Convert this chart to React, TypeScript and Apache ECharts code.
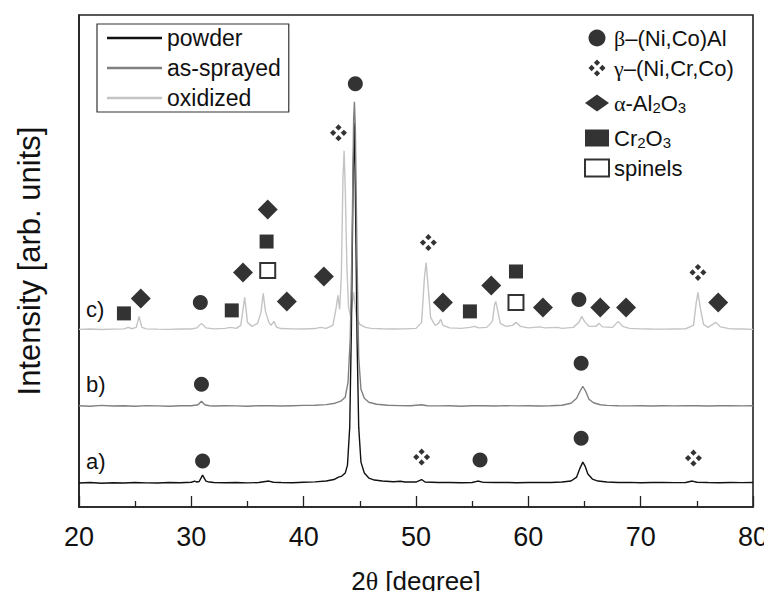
import React, { useEffect, useRef } from "react";
import * as echarts from "echarts";

// Tick labels of the 2θ axis
const xTicks = [20, 30, 40, 50, 60, 70, 80];

// Pattern a) powder  [2θ, intensity (arb.)]
const powder: number[][] = [
  [20, 24], [21, 24.5], [22, 23.8], [23, 24.3], [24, 24], [25, 24.6], [26, 24.2], [27, 24], [28, 24.5], [29, 24.3],
  [30, 24.8], [30.3, 26], [30.5, 25], [30.7, 25.5], [31.0, 32], [31.3, 26], [31.6, 25], [32, 24.5], [33, 24.3],
  [34, 24.6], [35, 24.2], [36, 24.5], [36.9, 26], [37.3, 24.8], [38, 24.5], [39, 24.3], [40, 24.8], [41, 25.2],
  [42, 26], [42.7, 27.5], [43.1, 30], [43.4, 31], [43.7, 34], [43.9, 42], [44.1, 80], [44.25, 180], [44.4, 330],
  [44.5, 385], [44.6, 320], [44.75, 170], [44.9, 80], [45.1, 45], [45.4, 34], [45.8, 29], [46.3, 27], [47, 26],
  [48, 25.3], [48.6, 25.8], [49, 25], [50, 25], [50.5, 27.5], [50.8, 25], [52, 24.6], [53, 24.5], [54, 24.3],
  [55, 24.5], [55.5, 26], [56, 24.7], [57, 24.5], [58, 24.6], [59, 24.3], [60, 24.5], [61, 24.6], [62, 24.5],
  [63, 25], [63.8, 26], [64.3, 30], [64.6, 39], [64.85, 45], [65.05, 41], [65.3, 33], [65.7, 28], [66.2, 26],
  [67, 25], [68, 24.5], [69, 24.7], [70, 24.3], [71, 24.5], [72, 24.6], [73, 24.4], [74, 24.5], [74.6, 26],
  [75, 24.8], [76, 24.5], [77, 24.3], [78, 24.6], [79, 24.4], [80, 24.5],
];

// Pattern b) as-sprayed
const asSprayed: number[][] = [
  [20, 101.5], [21, 101], [22, 101.8], [23, 101.2], [24, 101.5], [25, 101], [26, 101.6], [27, 101.3], [28, 101],
  [29, 101.4], [30, 101.5], [30.6, 102.5], [30.9, 106], [31.2, 102.5], [31.6, 101.5], [32, 101.2], [33, 101.5],
  [34, 101.3], [35, 101], [36, 101.6], [37, 101.5], [38, 101.2], [39, 101.5], [40, 101.8], [41, 102], [42, 102.6],
  [42.8, 104], [43.3, 106], [43.7, 110], [43.95, 125], [44.15, 170], [44.3, 260], [44.45, 390], [44.52, 406],
  [44.6, 380], [44.75, 250], [44.9, 150], [45.1, 118], [45.4, 109], [45.8, 105], [46.5, 103], [47.5, 102],
  [48.5, 101.6], [49.5, 101.5], [50.5, 102.5], [51, 101.5], [52, 101.3], [53, 101.5], [54, 101], [55, 101.4],
  [56, 101.5], [57, 101.2], [58, 101.6], [59, 101.3], [60, 101.5], [61, 101.2], [62, 101.5], [63, 102],
  [63.8, 104], [64.3, 109], [64.6, 116], [64.85, 121], [65.1, 116], [65.4, 108], [65.8, 104.5], [66.4, 102.5],
  [67, 101.8], [68, 101.5], [69, 101.3], [70, 101.5], [71, 101.2], [72, 101.5], [73, 101.3], [74, 101.6],
  [75, 101.4], [76, 101.2], [77, 101.5], [78, 101.6], [79, 101.3], [80, 101.4],
];

// Pattern c) oxidized
const oxidized: number[][] = [
  [20, 178], [21, 178.4], [22, 177.8], [23, 178.2], [24, 178.5], [24.4, 180], [24.7, 178.6], [25.1, 180],
  [25.35, 191], [25.6, 180], [26, 178.5], [27, 178.2], [28, 178], [29, 178.3], [30, 178.4], [30.5, 179.5],
  [30.9, 184], [31.3, 179.5], [32, 178.5], [33, 179], [33.5, 180], [34, 179], [34.4, 182], [34.75, 210],
  [35.0, 185], [35.4, 181], [35.9, 184], [36.2, 195], [36.4, 214], [36.6, 196], [36.9, 185], [37.1, 182],
  [37.35, 186], [37.6, 180], [38, 178.8], [39, 178.5], [40, 178.4], [41, 178.8], [41.5, 180], [42, 179],
  [42.6, 182], [42.9, 200], [43.05, 212], [43.2, 198], [43.35, 230], [43.5, 330], [43.6, 357], [43.7, 320],
  [43.85, 240], [44.0, 200], [44.2, 190], [44.45, 215], [44.7, 190], [45, 183], [45.5, 180], [46, 179],
  [47, 178.6], [48, 178.4], [49, 178.5], [50, 179], [50.5, 185], [50.75, 230], [50.9, 245], [51.05, 225],
  [51.3, 190], [51.7, 182], [52.0, 184], [52.2, 188], [52.4, 182], [53, 179.5], [54, 179], [54.8, 180],
  [55.2, 181], [55.6, 179.5], [56.3, 180], [56.8, 186], [57.0, 203], [57.1, 206], [57.25, 198], [57.5, 184],
  [58, 181], [58.6, 182], [58.9, 185], [59.3, 181], [60, 179.5], [61, 180.5], [61.5, 179.5], [62.6, 180],
  [63, 179], [64, 180], [64.5, 185], [64.75, 191], [65.0, 186], [65.4, 181], [66.0, 181], [66.3, 184],
  [66.6, 180.5], [67.5, 180], [68.0, 186], [68.4, 181], [69, 179], [70, 178.5], [71, 178.3], [72, 178.2],
  [73, 178.4], [74, 178.6], [74.7, 182], [74.95, 205], [75.1, 215], [75.3, 200], [75.6, 183], [76, 180],
  [76.4, 183], [76.7, 185], [77.1, 180.5], [78, 178.5], [79, 178.3], [80, 178],
];

// Phase markers [2θ, height]
const betaMarks: number[][] = [
  [44.6, 424], [30.8, 205], [64.5, 208], [30.9, 123], [64.7, 144], [31.0, 46], [55.7, 47], [64.7, 69],
];
const gammaMarks: number[][] = [[43.1, 375], [51.1, 265], [75.1, 235], [50.5, 50], [74.7, 49]];
const alphaMarks: number[][] = [
  [25.5, 209], [34.6, 235], [36.8, 298], [38.5, 206], [41.8, 231], [52.4, 205], [56.7, 222], [61.3, 200],
  [66.4, 200], [68.7, 200], [76.9, 205],
];
const cr2o3Marks: number[][] = [[24.0, 194], [33.6, 197], [36.7, 266], [54.8, 196], [58.9, 236]];
const spinelMarks: number[][] = [[36.8, 237], [58.9, 205]];

const lineNames = ["powder", "as-sprayed", "oxidized"];
const phaseNames = ["beta", "gamma", "alpha", "cr2o3", "spinels"];
const phaseLabels: Record<string, string> = {
  beta: "{g|β}–(Ni,Co)Al",
  gamma: "{g|γ}–(Ni,Cr,Co)",
  alpha: "{g|α}-Al{s|2}O{s|3}",
  cr2o3: "Cr{s|2}O{s|3}",
  spinels: "spinels",
};
const curveLabels = ["a)", "b)", "c)"];

const clover =
  "path://M10 0.5L13.5 4L10 7.5L6.5 4Z M16 6.5L19.5 10L16 13.5L12.5 10Z M10 12.5L13.5 16L10 19.5L6.5 16Z M4 6.5L7.5 10L4 13.5L0.5 10Z";

const FONT = "'Liberation Sans', Arial, sans-serif";

export default function App() {
  const ref = useRef<HTMLDivElement>(null);
  useEffect(() => {
    if (!ref.current) return;
    const chart = echarts.init(ref.current, undefined, { renderer: "svg" });
    const black = "#000";
    chart.setOption({
      animation: false,
      backgroundColor: "#fff",
      textStyle: { fontFamily: FONT },
      grid: {
        left: 79, right: 19, top: 15, bottom: 91,
        show: true, borderColor: "#222", borderWidth: 1.6, backgroundColor: "transparent",
      },
      xAxis: {
        type: "value", min: 20, max: 80, interval: 10,
        axisLine: { show: true, lineStyle: { color: "#222", width: 1.6 } },
        axisTick: { show: true, inside: true, length: 11, lineStyle: { color: "#222", width: 1.3 } },
        minorTick: { show: true, splitNumber: 2, length: 6, lineStyle: { color: "#222", width: 1.3 } },
        splitLine: { show: false },
        axisLabel: {
          fontSize: 27, color: "#111", margin: 16, fontFamily: FONT,
          formatter: (v: number) => (xTicks.includes(v) ? String(v) : ""),
        },
        name: "2{g|θ} [degree]",
        nameLocation: "middle",
        nameGap: 61,
        nameTextStyle: {
          fontSize: 26, color: "#111", fontFamily: FONT,
          rich: { g: { fontSize: 26, fontFamily: "'Liberation Serif', serif", color: "#111" } },
        },
      },
      yAxis: {
        type: "value", min: 0, max: 493,
        axisLine: { show: true, lineStyle: { color: "#222", width: 1.6 } },
        axisTick: { show: false },
        axisLabel: { show: false },
        splitLine: { show: false },
        name: "Intensity [arb. units]",
        nameLocation: "middle",
        nameGap: 34,
        nameTextStyle: { fontSize: 31, color: "#111", fontFamily: FONT },
      },
      legend: [
        {
          data: lineNames,
          orient: "vertical",
          left: 97, top: 24,
          icon: "rect",
          itemWidth: 55, itemHeight: 2.5, itemGap: 6,
          padding: [2, 8, 2, 10],
          borderColor: "#333", borderWidth: 1.2,
          textStyle: { fontSize: 23, color: "#111", lineHeight: 24, fontFamily: FONT },
        },
        {
          data: phaseNames,
          orient: "vertical",
          left: 584, top: 26,
          itemWidth: 24, itemHeight: 17, itemGap: 6,
          padding: 0,
          formatter: (n: string) => phaseLabels[n],
          textStyle: {
            fontSize: 22, color: "#111", lineHeight: 24, fontFamily: FONT,
            rich: {
              g: { fontSize: 22, fontFamily: "'Liberation Serif', serif", color: "#111", lineHeight: 24 },
              s: { fontSize: 15, color: "#111", lineHeight: 24, verticalAlign: "bottom", padding: [14, 0, 0, 0] },
            },
          },
        },
      ],
      graphic: curveLabels.map((t, i) => ({
        type: "text",
        left: 86,
        top: [450, 373, 298][i],
        style: { text: t, fontSize: 22, fill: "#111", fontFamily: FONT },
      })),
      series: [
        { name: "oxidized", type: "line", data: oxidized, showSymbol: false, color: "#c4c4c4", lineStyle: { width: 1.4 } },
        { name: "powder", type: "line", data: powder, showSymbol: false, color: "#111", lineStyle: { width: 1.4 } },
        { name: "as-sprayed", type: "line", data: asSprayed, showSymbol: false, color: "#808080", lineStyle: { width: 1.4 } },
        { name: "beta", type: "scatter", data: betaMarks, symbol: "circle", symbolSize: 15, itemStyle: { color: black } },
        { name: "gamma", type: "scatter", data: gammaMarks, symbol: clover, symbolSize: 17, itemStyle: { color: black } },
        { name: "alpha", type: "scatter", data: alphaMarks, symbol: "diamond", symbolSize: 20, itemStyle: { color: black } },
        { name: "cr2o3", type: "scatter", data: cr2o3Marks, symbol: "rect", symbolSize: 14, itemStyle: { color: black } },
        {
          name: "spinels", type: "scatter", data: spinelMarks, symbol: "emptyRect", symbolSize: 15,
          itemStyle: { color: black, borderColor: black, borderWidth: 2.5 },
        },
      ],
    });
    return () => chart.dispose();
  }, []);
  return <div ref={ref} style={{ width: 772, height: 599, margin: -8 }} />;
}
